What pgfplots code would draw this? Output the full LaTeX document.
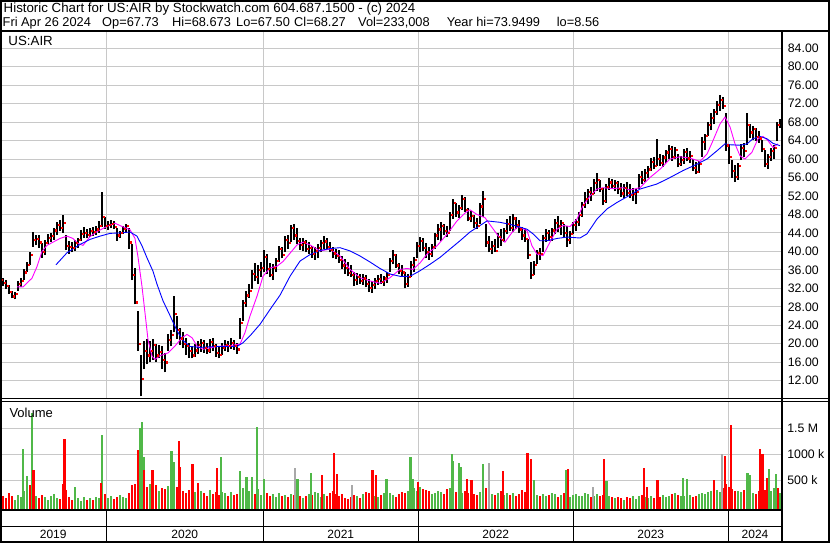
\documentclass[border=0pt]{standalone}
\usepackage{fontspec}
\setmainfont{Liberation Sans}
\usepackage{pgfplots}
\usepackage{pgfplotstable}
\pgfplotsset{compat=1.18}
\definecolor{gridgray}{RGB}{200,200,200}
\definecolor{vgreen}{RGB}{80,184,72}
\definecolor{vred}{RGB}{255,0,0}
\definecolor{vgray}{RGB}{168,168,168}
\definecolor{mag}{RGB}{255,0,255}
\definecolor{mblue}{RGB}{0,0,255}

% weekly bars: week, low, high, close, volume (k), up-week flag
\pgfplotstableread{
w lo hi c v k
0 32.8 34.5 33.8 240 1
1 32.5 34.3 33.2 200 0
2 31.8 33.8 32.5 150 0
3 30.8 32.8 31.2 260 0
4 29.8 31.5 30.3 190 0
5 29.6 31.2 30.8 130 1
6 31.5 33.5 33.0 210 1
7 32.3 34.3 33.6 170 1
8 33.8 36.2 35.5 290 1
9 35.5 37.8 37.2 230 1
10 37.0 39.8 39.2 180 1
11 41.0 44.2 42.5 260 1
12 41.3 43.6 42.8 200 1
13 40.8 43.5 42.0 150 0
14 38.6 41.8 40.0 220 0
15 39.2 42.4 41.8 170 1
16 41.5 43.8 42.9 120 1
17 42.0 44.0 43.4 190 1
18 42.5 45.0 44.6 240 1
19 43.5 46.3 45.8 160 1
20 44.5 46.8 45.2 140 0
21 44.0 47.8 46.3 280 1
22 40.2 43.5 41.2 310 0
23 39.5 42.2 41.0 170 0
24 39.8 42.0 40.8 130 0
25 40.0 42.5 41.8 200 1
26 40.8 43.0 42.5 150 1
27 42.3 44.6 43.8 110 1
28 43.0 45.2 44.0 170 1
29 42.8 44.8 43.6 130 0
30 43.2 45.0 44.5 160 1
31 43.3 45.3 44.2 120 0
32 43.5 45.5 44.8 180 1
33 44.0 46.5 45.5 150 1
34 45.2 52.8 47.5 300 1
35 44.8 47.5 45.6 230 0
36 44.6 46.6 45.8 160 1
37 45.0 46.8 46.0 200 1
38 44.8 46.5 45.4 140 0
39 42.3 45.0 43.5 180 0
40 42.8 44.5 44.0 210 1
41 43.8 45.6 45.0 170 1
42 44.0 46.0 45.6 150 1
43 40.5 45.0 42.0 260 0
44 33.8 41.5 35.0 330 0
45 28.5 36.5 29.0 420 0
46 18.5 27.0 20.0 480 0
47 8.6 17.5 12.5 560 0
48 14.5 20.5 18.5 470 1
49 15.5 21.0 17.5 380 0
50 16.0 20.5 18.4 420 1
51 16.5 21.0 19.8 350 1
52 16.0 20.0 17.5 400 0
53 16.8 19.8 18.2 300 1
54 14.5 19.5 16.5 360 0
55 13.8 18.0 16.0 330 0
56 18.5 22.0 20.8 390 1
57 19.5 23.0 22.0 440 1
58 22.5 30.3 26.5 480 1
59 21.0 26.0 23.0 380 0
60 19.8 23.5 21.2 340 0
61 19.0 22.5 20.0 300 0
62 17.5 21.3 19.5 260 0
63 17.0 20.2 18.5 310 0
64 16.8 19.5 17.5 240 0
65 17.2 20.0 18.6 280 1
66 17.8 20.5 19.8 230 1
67 18.3 21.0 20.2 300 1
68 18.0 20.8 19.2 260 0
69 17.8 20.2 18.6 200 0
70 18.0 21.0 20.4 310 1
71 18.5 21.2 19.6 240 0
72 17.2 20.0 18.0 270 0
73 16.8 19.4 17.6 220 0
74 17.5 20.2 19.2 280 1
75 18.5 20.8 19.8 250 1
76 18.2 20.6 19.5 190 0
77 18.8 21.2 20.2 270 1
78 18.6 20.8 19.6 220 0
79 17.8 20.2 18.8 240 0
80 21.0 25.5 24.5 300 1
81 25.0 29.5 28.8 350 1
82 28.0 31.5 30.5 260 1
83 30.0 33.0 31.5 300 1
84 31.8 36.0 35.2 280 1
85 33.5 37.5 34.6 240 0
86 33.0 37.0 36.0 330 1
87 34.5 37.8 36.5 220 1
88 35.5 40.2 38.8 290 1
89 35.0 39.5 36.2 250 0
90 34.5 37.5 35.0 200 0
91 33.8 37.2 36.5 230 1
92 35.5 38.5 38.0 180 1
93 37.8 41.2 40.5 260 1
94 38.5 41.0 39.2 200 0
95 39.8 43.3 42.5 220 1
96 40.5 43.5 41.8 170 0
97 42.0 45.8 45.2 230 1
98 42.5 46.0 43.5 210 0
99 41.5 45.0 42.4 270 0
100 40.3 43.0 41.5 190 0
101 40.0 42.8 42.0 160 1
102 39.8 42.5 40.6 200 0
103 39.5 42.0 40.8 240 1
104 38.6 41.2 39.5 210 0
105 38.2 41.0 40.2 280 1
106 38.5 41.5 40.8 260 1
107 39.8 42.5 41.8 180 1
108 40.5 43.3 42.2 230 1
109 40.2 42.8 41.0 190 0
110 39.8 42.0 40.4 260 0
111 38.5 41.0 39.6 300 0
112 38.3 40.6 39.0 240 0
113 37.5 40.2 38.2 200 0
114 36.2 39.0 37.0 230 0
115 35.2 38.3 36.5 160 0
116 34.6 37.8 35.4 140 0
117 34.5 37.0 35.0 180 0
118 32.5 35.5 33.8 220 0
119 32.8 35.3 34.5 200 1
120 33.0 35.0 33.6 150 0
121 32.8 35.2 34.2 240 1
122 32.2 34.8 33.0 280 0
123 31.2 34.0 32.2 260 0
124 31.0 33.5 32.8 230 1
125 31.8 34.3 33.6 190 1
126 32.8 34.8 34.0 170 1
127 33.0 35.0 33.5 220 0
128 32.6 34.6 34.2 250 1
129 33.2 35.5 35.0 180 1
130 35.5 38.5 38.0 260 1
131 37.2 40.2 39.2 210 1
132 36.5 39.5 37.0 170 0
133 35.0 37.5 35.8 230 0
134 34.5 37.0 35.5 280 0
135 32.0 35.6 33.0 260 0
136 32.3 35.0 34.5 300 1
137 34.5 38.0 37.2 240 1
138 35.5 38.8 38.2 350 1
139 38.5 42.0 41.2 300 1
140 39.8 43.2 42.3 380 1
141 40.0 42.8 40.8 340 0
142 38.5 41.8 40.0 310 0
143 38.2 41.0 39.5 290 0
144 38.8 41.5 41.0 240 1
145 40.5 44.0 43.5 260 1
146 42.5 46.0 44.8 300 1
147 42.2 46.3 45.5 270 1
148 43.5 46.0 44.5 230 0
149 43.2 45.6 44.0 330 0
150 44.5 48.5 48.0 360 1
151 47.0 51.4 50.5 300 1
152 47.5 50.5 48.5 280 0
153 47.3 50.0 49.5 320 1
154 49.0 52.3 51.5 260 1
155 48.5 51.8 49.0 290 0
156 46.5 49.5 47.2 250 0
157 46.3 48.8 47.8 300 1
158 45.0 47.8 46.2 230 0
159 44.8 47.2 45.6 210 0
160 46.0 50.5 49.8 280 1
161 47.5 53.0 51.5 300 1
162 41.0 46.0 42.0 350 0
163 39.8 43.4 40.5 320 0
164 39.4 42.2 41.2 240 1
165 39.8 42.7 40.2 220 0
166 40.8 44.0 43.2 260 1
167 41.2 44.8 42.5 300 0
168 42.0 45.0 44.5 210 1
169 43.8 47.0 46.0 250 1
170 44.5 47.7 45.2 220 0
171 44.2 48.0 47.2 260 1
172 44.8 47.5 45.8 200 0
173 44.0 46.8 44.8 230 0
174 42.5 45.2 43.5 310 0
175 42.0 44.8 42.8 280 0
176 38.3 42.7 39.2 300 0
177 34.0 37.6 35.0 330 0
178 34.8 38.0 37.2 260 1
179 37.2 40.2 39.8 220 1
180 38.2 40.8 39.5 200 0
181 39.8 43.5 43.0 240 1
182 42.0 44.8 44.0 190 1
183 42.2 44.6 43.2 210 0
184 42.3 45.0 44.6 250 1
185 43.8 47.0 46.2 230 1
186 44.2 47.7 45.5 180 0
187 43.5 46.8 46.3 220 1
188 43.0 46.0 44.0 260 0
189 41.0 45.5 42.5 200 0
190 41.5 44.5 43.8 170 1
191 43.8 46.3 45.8 220 1
192 44.5 47.0 46.5 240 1
193 45.5 48.5 48.0 200 1
194 47.5 50.8 50.2 190 1
195 49.5 52.8 51.5 260 1
196 50.2 53.6 53.0 230 1
197 51.0 54.0 52.5 180 0
198 52.5 55.6 54.8 200 1
199 53.0 57.0 55.5 240 1
200 52.8 55.5 53.5 190 0
201 50.0 53.8 51.0 210 0
202 50.5 54.5 54.0 250 1
203 53.4 55.8 55.0 200 1
204 53.5 55.6 54.2 170 0
205 53.0 55.5 54.8 150 1
206 52.5 55.2 53.5 180 0
207 51.8 54.8 52.6 160 0
208 51.6 54.5 53.8 130 1
209 52.0 55.0 52.8 170 0
210 51.5 54.5 52.2 150 0
211 51.0 53.8 52.5 190 1
212 50.2 53.5 53.0 140 1
213 53.5 56.8 56.2 200 1
214 54.6 57.5 55.5 210 0
215 55.0 57.8 57.0 180 1
216 55.8 58.5 57.8 160 1
217 57.5 60.2 59.5 200 1
218 57.8 60.5 58.5 150 0
219 58.5 64.3 60.0 240 1
220 58.5 61.2 59.2 180 0
221 58.3 60.8 60.4 210 1
222 59.2 62.0 61.5 170 1
223 60.0 63.0 62.2 200 1
224 59.6 62.8 60.5 230 0
225 60.0 62.6 62.0 250 1
226 58.2 61.0 59.0 220 0
227 58.5 60.6 59.8 200 1
228 59.0 62.2 61.6 190 1
229 59.5 62.4 60.2 240 0
230 59.2 61.8 60.8 220 1
231 57.5 60.0 58.2 180 0
232 56.7 59.3 57.2 200 0
233 57.0 59.6 59.0 230 1
234 60.5 64.7 63.8 260 1
235 62.0 65.5 65.0 240 1
236 65.0 68.0 67.5 280 1
237 66.2 70.0 69.0 300 1
238 67.5 70.8 70.2 260 1
239 69.5 72.5 71.8 320 1
240 70.5 73.95 72.8 280 1
241 70.8 73.5 71.5 350 0
242 61.8 70.0 63.0 420 0
243 59.0 63.2 60.5 380 0
244 56.0 59.8 57.5 330 0
245 55.0 58.8 56.2 300 0
246 55.5 59.2 58.5 290 1
247 59.8 63.3 62.5 280 1
248 60.5 63.5 61.8 310 0
249 63.0 70.0 67.5 350 1
250 64.5 67.5 65.8 300 0
251 64.2 67.2 66.5 260 1
252 64.0 66.8 64.8 240 0
253 63.5 66.0 64.5 300 0
254 61.5 64.2 62.2 360 0
255 58.2 62.0 59.0 320 0
256 57.8 61.2 60.5 280 1
257 59.6 62.5 61.8 300 1
258 60.0 63.0 62.4 360 1
259 64.0 68.0 67.5 340 1
260 66.8 68.7 68.27 260 1
}\data

% single high-volume sessions: position (weeks), volume (k), 0 red / 1 green / 2 grey
\pgfplotstableread{
w v k
7.67 1100 1
9.00 580 1
10.00 410 0
10.67 1790 1
11.20 690 0
21.00 420 0
21.45 1290 0
25.00 370 1
33.60 440 0
34.00 1370 1
44.00 400 0
46.10 1080 0
46.90 1500 1
47.43 1620 1
47.77 940 1
48.10 700 0
50.77 690 0
57.23 1060 1
57.77 850 1
59.67 1250 0
60.00 760 0
64.23 810 0
66.10 450 0
72.43 730 0
73.57 950 1
80.00 670 1
82.23 560 1
84.10 560 1
85.57 1530 1
88.10 520 1
98.33 740 2
99.23 520 1
103.57 640 1
107.43 610 0
111.33 1020 0
112.43 630 0
117.43 400 2
124.23 690 0
125.33 600 0
128.90 520 1
136.90 950 1
137.67 530 1
139.43 460 0
150.57 1000 1
151.10 870 1
153.00 840 1
153.67 760 1
155.57 520 0
157.23 510 0
161.10 820 1
163.00 830 2
167.57 670 0
175.90 1020 0
177.00 900 0
178.10 510 1
188.90 700 1
189.43 710 0
197.57 370 2
201.43 900 0
202.23 480 1
214.67 740 0
215.57 380 0
219.23 500 0
227.57 550 1
229.10 520 1
238.00 510 0
240.57 1000 2
241.67 970 0
243.57 1560 0
249.23 640 1
250.00 610 1
253.33 1100 0
254.23 1000 0
255.57 540 0
256.33 720 1
258.67 630 1
259.33 350 0
}\spikes

\pgfplotstableread{
w y
5.67 32.3
7.67 32.3
10.67 34.2
12.33 36.7
14.00 40.0
15.67 41.3
17.67 42.0
20.00 42.8
22.33 43.3
24.33 42.8
26.00 41.7
27.67 41.3
30.00 43.2
32.33 44.3
35.67 45.4
38.33 46.1
40.67 45.4
43.33 44.7
45.00 42.8
46.00 38.8
47.33 32.4
48.33 26.7
49.33 20.9
50.67 17.3
51.67 16.6
53.33 17.4
56.00 18.0
58.33 19.5
60.67 21.3
62.33 22.0
64.00 21.3
65.67 19.5
67.67 18.8
72.33 19.4
76.67 19.6
80.00 19.9
81.67 22.4
83.33 26.0
85.67 30.3
87.67 34.6
90.00 36.4
92.33 36.8
94.33 37.8
96.67 39.6
99.00 41.4
101.00 42.0
103.33 41.4
106.67 40.1
110.00 40.5
113.33 39.0
116.67 36.1
120.00 34.3
123.33 33.6
126.67 33.1
130.00 34.3
133.33 36.1
135.67 36.3
137.67 36.1
140.00 37.5
142.33 39.4
145.67 41.2
149.00 43.7
152.33 46.6
155.00 48.3
156.67 49.0
159.00 48.0
161.67 47.3
164.00 45.2
166.00 43.4
168.33 42.0
170.67 44.1
172.67 45.4
175.67 44.5
177.33 41.2
179.00 39.4
181.00 39.1
183.33 42.0
185.67 44.8
187.67 45.6
190.00 45.4
192.33 47.0
194.33 49.9
196.67 52.0
199.00 53.5
201.00 53.8
204.33 53.6
207.67 53.8
210.00 53.3
213.33 53.8
216.67 56.0
220.00 57.8
223.33 60.0
226.67 60.5
230.00 60.2
233.33 59.5
235.67 61.1
237.67 64.0
240.00 67.6
241.67 69.1
243.33 67.0
245.00 63.3
246.67 60.7
248.33 60.0
250.67 61.5
252.67 64.4
254.33 64.9
256.00 64.0
257.67 62.5
259.33 63.3
}\mashort

\pgfplotstableread{
w y
18.67 37.1
22.33 39.7
26.67 41.5
30.00 42.6
33.33 43.3
36.67 43.9
40.00 44.0
43.33 44.2
45.67 43.3
47.33 41.2
49.00 38.6
51.00 35.7
52.33 32.9
54.33 29.3
56.67 26.1
59.00 22.8
61.00 20.7
63.33 19.4
66.67 19.2
72.33 19.4
79.00 19.4
81.00 20.2
83.33 21.7
86.67 24.2
90.00 27.4
93.33 30.5
96.67 34.6
100.00 37.9
103.33 39.3
106.67 40.2
110.00 40.6
113.33 40.8
116.67 40.1
120.00 39.0
123.33 37.7
126.67 36.3
130.00 35.1
133.33 34.6
136.67 34.6
140.00 35.8
143.33 37.2
146.67 38.7
150.00 40.5
153.33 42.3
156.67 44.2
160.00 45.6
162.33 46.6
166.67 46.3
171.00 45.7
175.67 44.8
177.67 43.8
180.00 42.3
182.33 42.3
185.67 42.8
189.00 43.1
193.33 42.9
195.67 43.8
199.00 47.0
202.33 49.2
205.67 50.6
210.00 52.2
213.33 53.5
219.00 54.6
223.33 56.0
227.67 57.5
232.33 58.9
235.67 60.0
239.00 61.8
241.67 63.3
243.33 63.1
246.67 63.0
249.00 63.3
251.00 64.4
253.33 64.9
255.67 64.4
257.67 63.4
260.00 62.9
}\malong

\pgfplotsset{
  rangebar/.style 2 args={draw=none, mark=none, forget plot,
    error bars/y dir=plus, error bars/y explicit, error bars/error mark=none,
    error bars/error bar style={draw=#1, solid, line width=#2}},
}

\begin{document}
\begin{tikzpicture}
\useasboundingbox (0pt,0pt) rectangle (830pt,543pt);
\fill[white] (0pt,0pt) rectangle (830pt,543pt);

% ---------------- price panel ----------------
\begin{axis}[
  at={(0pt,144pt)}, anchor=south west,
  width=781.7pt, height=367pt, scale only axis,
  xmin=0, xmax=260.57, ymin=8.02, ymax=87.53,
  axis line style={draw=none},
  major tick length=0pt,
  xtick={35.43,87.77,139.43,191.1,242.77}, xticklabels={},
  ytick={12,16,...,84},
  yticklabel pos=right,
  /pgf/number format/assume math mode=true,
  yticklabel={\pgfmathprintnumber[fixed,fixed zerofill,precision=2]{\tick}},
  yticklabel style={anchor=west, inner sep=0pt, xshift=6pt, font=\fontsize{12.3}{14}\selectfont},
  grid=major, grid style={draw=gridgray, line width=1pt},
]
\addplot[rangebar={black}{2.9pt}]
  table[x=w, y=lo, y error plus expr=\thisrow{hi}-\thisrow{lo}] {\data};
\addplot[only marks, color=vred, mark=square*, mark size=0.6pt,
  mark options={draw=vred, fill=vred}]
  table[x expr=\thisrow{w}+0.5, y=c] {\data};
\addplot[mag, line width=0.9pt, mark=none] table[x=w, y=y] {\mashort};
\addplot[mblue, line width=0.9pt, mark=none] table[x=w, y=y] {\malong};
\end{axis}

% ---------------- volume panel ----------------
\begin{axis}[
  at={(0pt,33.7pt)}, anchor=south west,
  width=781.7pt, height=108.3pt, scale only axis,
  xmin=0, xmax=260.57, ymin=-57.7, ymax=2025,
  axis line style={draw=none},
  major tick length=0pt,
  xtick={35.43,87.77,139.43,191.1,242.77}, xticklabels={},
  ytick={500,1000,1500}, yticklabels={500 k,1000 k,1.5 M},
  yticklabel pos=right,
  yticklabel style={anchor=west, inner sep=0pt, xshift=5.5pt, font=\fontsize{12.3}{14}\selectfont},
  grid=major, grid style={draw=gridgray, line width=1pt},
]
\addplot[restrict expr to domain={\thisrow{k}}{1:1}, rangebar={vgreen}{2.8pt}]
  table[x=w, y expr=-57.7, y error plus expr=\thisrow{v}+57.7] {\data};
\addplot[restrict expr to domain={\thisrow{k}}{0:0}, rangebar={vred}{2.8pt}]
  table[x=w, y expr=-57.7, y error plus expr=\thisrow{v}+57.7] {\data};
\addplot[restrict expr to domain={\thisrow{k}}{1:1}, rangebar={vgreen}{2.4pt}]
  table[x=w, y expr=-57.7, y error plus expr=\thisrow{v}+57.7] {\spikes};
\addplot[restrict expr to domain={\thisrow{k}}{0:0}, rangebar={vred}{2.4pt}]
  table[x=w, y expr=-57.7, y error plus expr=\thisrow{v}+57.7] {\spikes};
\addplot[restrict expr to domain={\thisrow{k}}{2:2}, rangebar={vgray}{2.4pt}]
  table[x=w, y expr=-57.7, y error plus expr=\thisrow{v}+57.7] {\spikes};
\end{axis}

% ---------------- frames and text ----------------
\draw[line width=2pt] (0pt,512pt) -- (830pt,512pt);
\draw[line width=1pt] (0pt,144.2pt) -- (830pt,144.2pt);
\draw[line width=1pt] (0pt,141.6pt) -- (830pt,141.6pt);
\draw[line width=1.5pt] (0pt,33pt) -- (781.7pt,33pt);
\draw[line width=1.5pt] (0pt,16.3pt) -- (781.7pt,16.3pt);
\foreach \xx in {106.3,263.3,418.3,573.3,728.3} {
  \draw[line width=1pt] (\xx pt,33pt) -- (\xx pt,1pt);
}
\draw[line width=2pt] (781.7pt,512pt) -- (781.7pt,1pt);
\draw[line width=2pt] (1pt,1pt) rectangle (829pt,542pt);

\begin{scope}[every node/.style={inner sep=0pt, font=\fontsize{12}{14}\selectfont}]
\node at (53.2pt,8.3pt) {2019};
\node at (184.8pt,8.3pt) {2020};
\node at (340.8pt,8.3pt) {2021};
\node at (495.8pt,8.3pt) {2022};
\node at (650.8pt,8.3pt) {2023};
\node at (755pt,8.3pt) {2024};
\end{scope}

\begin{scope}[every node/.style={inner sep=0pt, anchor=base west, font=\fontsize{12.8}{15}\selectfont}]
\node[font=\fontsize{13.3}{15}\selectfont] at (3.5pt,530.3pt) {Historic Chart for US:AIR by Stockwatch.com 604.687.1500 - (c) 2024};
\node at (2.5pt,516.3pt) {Fri Apr 26 2024};
\node at (102pt,516.3pt) {Op=67.73};
\node at (172pt,516.3pt) {Hi=68.673};
\node at (236pt,516.3pt) {Lo=67.50};
\node at (294pt,516.3pt) {Cl=68.27};
\node at (358pt,516.3pt) {Vol=233,008};
\node at (446.7pt,516.3pt) {Year hi=73.9499};
\node at (556.7pt,516.3pt) {lo=8.56};
\node[font=\fontsize{13.3}{15}\selectfont] at (8.3pt,497pt) {US:AIR};
\node[font=\fontsize{13}{15}\selectfont] at (9.3pt,125.3pt) {Volume};
\end{scope}
\end{tikzpicture}
\end{document}
